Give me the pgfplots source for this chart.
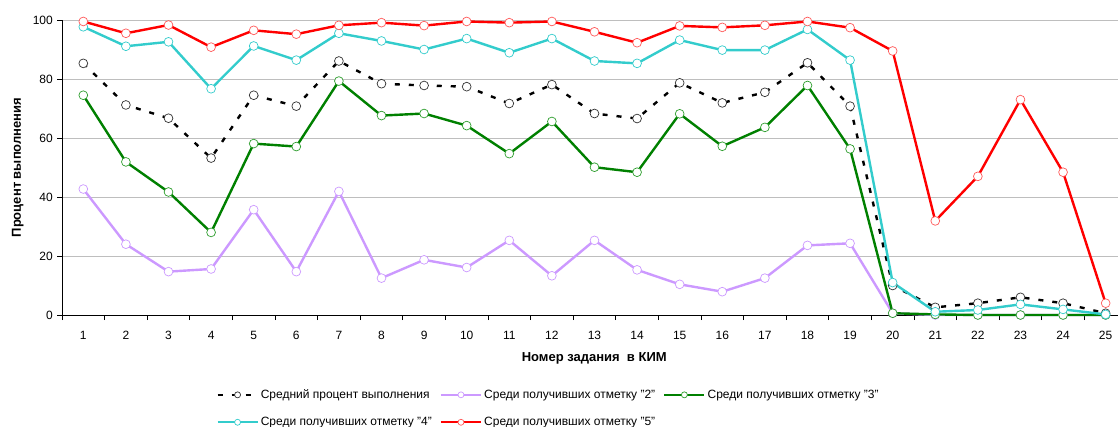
\documentclass[border=0pt]{standalone}
\usepackage{fontspec}
\setmainfont{Liberation Sans}
\usepackage{pgfplots}
\usepackage{pgfplotstable}
\pgfplotsset{compat=1.18}
\definecolor{cR}{HTML}{FF0000}
\definecolor{cRm}{HTML}{FF5A5A}
\definecolor{cC}{HTML}{33CCCC}
\definecolor{cG}{HTML}{008000}
\definecolor{cGm}{HTML}{2E9E2E}
\definecolor{cP}{HTML}{CC99FF}
\definecolor{gridc}{HTML}{BEBEBE}
\pgfplotstableread{
x mean two three four five
1 85.3 42.7 74.5 97.7 99.5
2 71.2 24.0 51.9 91.1 95.5
3 66.7 14.7 41.7 92.6 98.3
4 53.2 15.6 28.0 76.7 90.8
5 74.5 35.7 58.1 91.2 96.5
6 70.8 14.7 57.1 86.4 95.2
7 86.1 41.9 79.3 95.5 98.2
8 78.4 12.5 67.6 92.9 99.1
9 77.8 18.7 68.3 90.0 98.1
10 77.4 16.1 64.2 93.7 99.5
11 71.7 25.3 54.7 88.9 99.1
12 78.1 13.3 65.6 93.7 99.5
13 68.3 25.3 50.1 86.1 96.0
14 66.6 15.3 48.4 85.3 92.3
15 78.7 10.4 68.2 93.2 98.0
16 71.9 7.9 57.2 89.8 97.5
17 75.5 12.5 63.6 89.8 98.2
18 85.5 23.6 77.8 96.8 99.5
19 70.8 24.3 56.3 86.4 97.4
20 10.0 0.6 0.6 11.0 89.5
21 2.6 0.0 0.2 1.1 31.9
22 4.0 0.0 0.0 1.7 47.0
23 6.0 0.0 0.0 3.6 73.0
24 4.0 0.0 0.0 1.9 48.4
25 0.6 0.0 0.0 0.2 4.0
}\datatable
\begin{document}
\fontsize{12pt}{14pt}\selectfont
\begin{tikzpicture}
\path[use as bounding box] (0,0) rectangle (1118pt,426pt);
\begin{axis}[
  at={(62pt,111pt)}, anchor=south west,
  scale only axis, width=1056pt, height=295pt,
  xmin=0.5, xmax=25.29, ymin=0, ymax=100,
  clip=false,
  axis x line*=bottom, axis y line*=left,
  axis line style={black, line width=0.8pt, -},
  xtick={1,...,25}, ytick={0,20,...,100},
  minor xtick={0.5,1.5,...,24.5},
  tick align=outside,
  x tick style={draw=none},
  minor x tick style={draw=black, line width=0.8pt},
  minor tick length=5pt,
  y tick style={black, line width=0.8pt},
  major tick length=5pt,
  ymajorgrids, grid style={gridc, line width=0.8pt},
  tick label style={font=\fontsize{12pt}{14pt}\selectfont},
  /pgf/number format/assume math mode=true,
  xticklabel style={yshift=-7pt},
  xlabel={\bfseries Номер задания\ \ в КИМ},
  xlabel style={at={(axis description cs:0.504,-0.146)}, anchor=center, font=\fontsize{13pt}{15pt}\selectfont},
  ylabel={\bfseries Процент выполнения},
  ylabel style={at={(axis description cs:-0.042,0.5)}, anchor=center, font=\fontsize{13pt}{15pt}\selectfont},
  legend columns=3,
  legend style={at={(axis description cs:0.146,-0.245)}, anchor=north west, draw=none, fill=none,
    font=\fontsize{12pt}{14pt}\selectfont, column sep=0pt, row sep=13pt, inner sep=0pt,
    /tikz/every even column/.append style={column sep=6pt}},
  legend cell align=left,
  legend image code/.code={\draw[mark repeat=2,mark phase=2,mark size=3pt,#1] plot coordinates {(0pt,0pt) (20pt,0pt) (40pt,0pt)};},
  every axis plot/.append style={line width=2.4pt, mark=*, mark size=4.4pt},
]
\addplot[black, dash pattern=on 5pt off 9pt, mark options={solid, fill=white, draw=black!80, line width=0.7pt}] table[x=x,y=mean] {\datatable};
\addlegendentry{Средний процент выполнения}
\addplot[cP, mark options={fill=white, draw=cP, line width=0.7pt}] table[x=x,y=two] {\datatable};
\addlegendentry{Среди получивших отметку "2"}
\addplot[cG, mark options={fill=white, draw=cGm, line width=0.7pt}] table[x=x,y=three] {\datatable};
\addlegendentry{Среди получивших отметку "3"}
\addplot[cC, mark options={fill=white, draw=cC, line width=0.7pt}] table[x=x,y=four] {\datatable};
\addlegendentry{Среди получивших отметку "4"}
\addplot[cR, mark options={fill=white, draw=cRm, line width=0.7pt}] table[x=x,y=five] {\datatable};
\addlegendentry{Среди получивших отметку "5"}
\end{axis}
\end{tikzpicture}
\end{document}
